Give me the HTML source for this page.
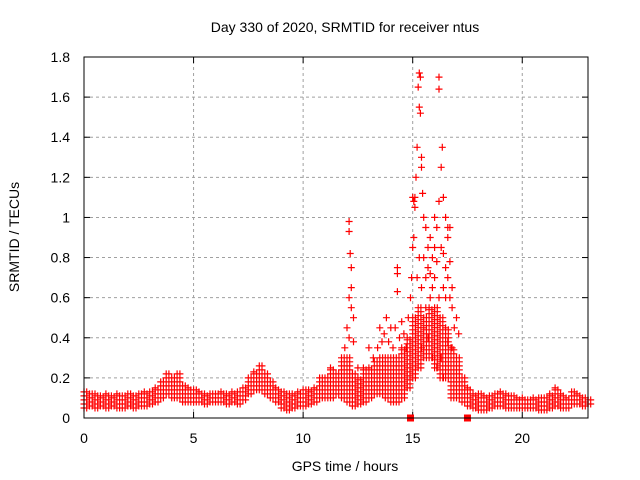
<!DOCTYPE html>
<html><head><meta charset="utf-8">
<style>
html,body{margin:0;padding:0;background:#fff;}
svg{display:block;font-family:"Liberation Sans",sans-serif;}
</style></head>
<body>
<svg id="chart" width="640" height="480" viewBox="0 0 640 480" xmlns="http://www.w3.org/2000/svg">
<rect x="0" y="0" width="640" height="480" fill="#fff"/>
<g id="grid"></g>
<g id="ticks"></g>
<g id="points"></g>
<rect x="84" y="57" width="504" height="361" fill="none" stroke="#000" stroke-width="1"/>
<text x="345" y="32" font-size="14" text-anchor="middle">Day 330 of 2020, SRMTID for receiver ntus</text>
<text x="345" y="471" font-size="14" text-anchor="middle">GPS time / hours</text>
<text x="19" y="237" font-size="14" text-anchor="middle" transform="rotate(-90 19 237)">SRMTID / TECUs</text>
</svg>
<script>
const xTicks = [0,5,10,15,20];
const xTickLabels = ["0","5","10","15","20"];
const yTicks = [0,0.2,0.4,0.6,0.8,1,1.2,1.4,1.6,1.8];
const yTickLabels = ["0","0.2","0.4","0.6","0.8","1","1.2","1.4","1.6","1.8"];
const baseStep = 0.25;
const baseHi = [0.13,0.12,0.12,0.11,0.12,0.11,0.12,0.11,0.12,0.11,0.12,0.13,
0.13,0.15,0.18,0.22, 0.2,0.22,0.16,0.15, 0.14,0.13,0.12,0.12, 0.12,0.13,0.12,0.13,
0.13,0.15,0.2,0.23, 0.26,0.22,0.18,0.15, 0.13,0.12,0.12,0.13, 0.14,0.14,0.15,0.2,
0.2,0.25,0.22,0.3, 0.3,0.22,0.2,0.25, 0.25,0.28,0.3,0.3, 0.3,0.3,0.35,0.4,
0.5,0.55,0.5,0.55, 0.55,0.5,0.45,0.35, 0.3,0.2,0.15,0.12, 0.12,0.11,0.11,0.12,
0.13,0.12,0.11,0.1, 0.1,0.09,0.1,0.1, 0.1,0.12,0.15,0.12, 0.1,0.13,0.12,0.1, 0.09];
const baseLo = [0.05,0.06,0.05,0.06,0.05,0.06,0.05,0.05,0.06,0.05,0.06,0.06,
0.07,0.08,0.1,0.12, 0.1,0.1,0.08,0.08, 0.08,0.08,0.07,0.08, 0.08,0.08,0.07,0.08,
0.07,0.09,0.12,0.14, 0.14,0.12,0.1,0.08, 0.05,0.04,0.05,0.06, 0.06,0.07,0.08,0.1,
0.1,0.1,0.12,0.1, 0.08,0.06,0.07,0.08, 0.1,0.12,0.12,0.1, 0.08,0.08,0.1,0.15,
0.2,0.25,0.3,0.3, 0.25,0.2,0.2,0.1, 0.1,0.08,0.06,0.05, 0.04,0.04,0.05,0.06,
0.06,0.05,0.05,0.05, 0.05,0.05,0.05,0.04, 0.04,0.05,0.06,0.05, 0.05,0.07,0.07,0.06, 0.07];
const spikeT = [12.1,12.1,12.15,12.2,12.2,12.1,12.2,12.3,12.0,12.1,13.4,13.5,13.8,14.3,14.3,14.3,14.0,14.2,
14.8,14.9,14.95,15.0,15.05,15.1,15.1,15.15,15.2,15.25,15.3,15.35,15.3,15.35,15.4,15.4,15.45,15.5,15.6,15.5,15.7,15.8,15.6,
16.0,16.1,16.2,16.3,16.35,16.2,16.2,16.4,16.5,16.6,16.6,16.4,16.5,16.6,16.7,16.8,16.9,16.6,16.8,17.0,16.3,16.2,15.9,15.7,15.5,
11.9,12.0,12.3,12.5,13.0,13.2,13.6,13.7,13.9,14.1,14.4,14.5,14.6,14.7,15.2,15.3,15.4,15.6,15.7,15.8,15.9,16.0,16.1,16.3,16.4,16.5,16.7,16.8,17.0,17.1,15.4,15.9,16.1,16.4,15.8,16.7,16.0,15.0,15.05];
const spikeV = [0.98,0.93,0.82,0.75,0.65,0.6,0.55,0.5,0.45,0.4,0.35,0.45,0.5,0.75,0.72,0.63,0.45,0.45,
0.5,0.6,0.7,0.85,0.9,1.05,1.1,1.2,1.35,1.65,1.72,1.7,1.55,1.52,1.3,1.25,1.12,1.0,0.95,0.8,0.75,0.6,0.55,
0.7,0.95,1.08,1.25,1.35,1.64,1.7,1.1,1.0,0.95,0.9,0.82,0.75,0.7,0.6,0.55,0.45,0.38,0.35,0.3,0.3,0.6,0.65,0.4,0.45,
0.35,0.3,0.38,0.25,0.35,0.3,0.38,0.42,0.38,0.35,0.4,0.48,0.42,0.35,0.7,0.8,0.65,0.7,0.85,0.72,0.8,0.85,0.78,0.85,0.65,0.6,0.78,0.65,0.5,0.42,0.35,0.3,0.25,0.2,0.9,0.95,1.0,1.1,1.08];
const squareT = [14.9,17.5];
const squareV = [0,0];

const NS = "http://www.w3.org/2000/svg";
const X0=84, X1=588, Y0=418, Y1=57, XMAX=23, YMAX=1.8;
function sx(t){ return X0 + t/XMAX*(X1-X0); }
function sy(v){ return Y0 - v/YMAX*(Y0-Y1); }
function mk(tag, attrs, parent){ const e=document.createElementNS(NS,tag); for(const k in attrs) e.setAttribute(k,attrs[k]); parent.appendChild(e); return e; }

const grid=document.getElementById('grid'), ticks=document.getElementById('ticks'), pts=document.getElementById('points');
xTicks.forEach((t,i)=>{
  const x=sx(t);
  if(t>0){ const g=mk('line',{x1:x,y1:Y0,x2:x,y2:Y1,stroke:'#a0a0a0','stroke-dasharray':'3,3','stroke-width':1},grid);
    
     }
  const tk=mk('line',{x1:x,y1:Y0,x2:x,y2:Y0-6,stroke:'#000'},ticks);
  
  
  const tk2=mk('line',{x1:x,y1:Y1,x2:x,y2:Y1+6,stroke:'#000'},ticks);
  
  
  const lb=mk('text',{x:x,y:443,'font-size':14,'text-anchor':'middle'},ticks);
  lb.textContent=xTickLabels[i];
  
  
});
yTicks.forEach((v,i)=>{
  const y=sy(v);
  if(v>0 && v<YMAX){ const g=mk('line',{x1:X0,y1:y,x2:X1,y2:y,stroke:'#a0a0a0','stroke-dasharray':'3,3','stroke-width':1},grid);
    
     }
  const tk=mk('line',{x1:X0,y1:y,x2:X0+6,y2:y,stroke:'#000'},ticks);
  
  
  const tk2=mk('line',{x1:X1,y1:y,x2:X1-6,y2:y,stroke:'#000'},ticks);
  
  
  const lb=mk('text',{x:X0-14,y:y+5,'font-size':14,'text-anchor':'end'},ticks);
  lb.textContent=yTickLabels[i];
  
  
});
let d='';
function plus(t,v){ const x=sx(t), y=sy(v); d+=`M${(x-3.5).toFixed(1)} ${y.toFixed(1)}h7M${x.toFixed(1)} ${(y-3.5).toFixed(1)}v7`; }
for(let i=0;i<baseHi.length;i++){
  const t=i*baseStep, lo=baseLo[i], hi=baseHi[i];
  for(let v=lo; v<=hi+1e-9; v+=0.02){ plus(t,v); plus(t+baseStep/2,v); }
  plus(t,hi); plus(t,lo);
}
spikeT.forEach((t,i)=>plus(t,spikeV[i]));
const p=mk('path',{d:d,stroke:'#ff0000','stroke-width':1.2,fill:'none'},pts);


squareT.forEach((t,i)=>{
  const r=mk('rect',{x:sx(t)-3.5,y:sy(squareV[i])-3.5,width:7,height:7,fill:'#ff0000'},pts);
  
  
});
</script>
</body></html>
